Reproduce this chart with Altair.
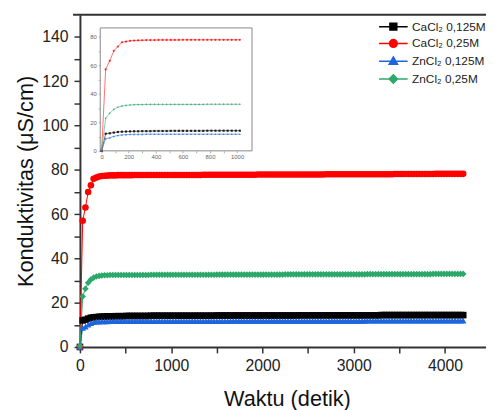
import altair as alt
import pandas as pd

# ---------------- data ----------------
series = ["CaCl₂ 0,125M", "CaCl₂ 0,25M", "ZnCl₂ 0,125M", "ZnCl₂ 0,25M"]
colors = ["#000000", "#ff0000", "#1f66dd", "#2ca86a"]
shapes = ["square", "circle", "triangle-up", "diamond"]

# sampling times (s): one reading every 30 s from 0 to 4200 s
times = list(range(0, 4201, 30))

cacl2_0125 = [
    0, 12.0, 12.3, 12.8, 13.2, 13.4, 13.5, 13.6, 13.7, 13.7,
    13.8, 13.8, 13.8, 13.9, 13.9, 13.9, 13.9, 14.0, 14.0, 14.0,
    14.0, 14.0, 14.0, 14.0, 14.0, 14.0, 14.1, 14.1, 14.1, 14.1,
    14.1, 14.1, 14.1, 14.1, 14.1,
    14.1, 14.1, 14.1, 14.1, 14.1, 14.1, 14.1, 14.1, 14.1, 14.1,
    14.1, 14.1, 14.1, 14.1, 14.1, 14.2, 14.2, 14.2, 14.2, 14.2,
    14.2, 14.2, 14.2, 14.2, 14.2, 14.2, 14.2, 14.2, 14.2, 14.2,
    14.2, 14.2, 14.2, 14.2, 14.2, 14.2, 14.2, 14.2, 14.2, 14.2,
    14.2, 14.2, 14.2, 14.2, 14.2, 14.3, 14.3, 14.3, 14.3, 14.3,
    14.3, 14.3, 14.3, 14.3, 14.3, 14.3, 14.3, 14.3, 14.3, 14.3,
    14.3, 14.3, 14.3, 14.3, 14.3, 14.3, 14.3, 14.3, 14.3, 14.3,
    14.3, 14.3, 14.3, 14.3, 14.3, 14.4, 14.4, 14.4, 14.4, 14.4,
    14.4, 14.4, 14.4, 14.4, 14.4, 14.4, 14.4, 14.4, 14.4, 14.4,
    14.4, 14.4, 14.4, 14.4, 14.4, 14.4, 14.4, 14.4, 14.4, 14.4,
    14.4, 14.4, 14.4, 14.4, 14.4, 14.4,
]

cacl2_025 = [
    0, 57.0, 63.0, 70.0, 73.0, 76.0, 76.5, 77.0, 77.2, 77.3,
    77.4, 77.5, 77.5, 77.5, 77.6, 77.6, 77.6, 77.6, 77.6, 77.6,
    77.7, 77.7, 77.7, 77.7, 77.7, 77.7, 77.7, 77.7, 77.7, 77.7,
    77.7, 77.7, 77.7, 77.7, 77.7,
    77.7, 77.7, 77.7, 77.7, 77.7, 77.7, 77.7, 77.7, 77.7, 77.7,
    77.8, 77.8, 77.8, 77.8, 77.8, 77.8, 77.8, 77.8, 77.8, 77.8,
    77.8, 77.8, 77.8, 77.8, 77.8, 77.8, 77.8, 77.8, 77.8, 77.8,
    77.9, 77.9, 77.9, 77.9, 77.9, 77.9, 77.9, 77.9, 77.9, 77.9,
    77.9, 77.9, 77.9, 77.9, 77.9, 77.9, 77.9, 77.9, 77.9, 77.9,
    77.9, 77.9, 77.9, 77.9, 77.9, 78.0, 78.0, 78.0, 78.0, 78.0,
    78.0, 78.0, 78.0, 78.0, 78.0, 78.0, 78.0, 78.0, 78.0, 78.0,
    78.0, 78.0, 78.0, 78.0, 78.0, 78.0, 78.0, 78.0, 78.0, 78.0,
    78.1, 78.1, 78.1, 78.1, 78.1, 78.1, 78.1, 78.1, 78.1, 78.1,
    78.1, 78.1, 78.1, 78.1, 78.1, 78.2, 78.2, 78.2, 78.2, 78.2,
    78.2, 78.2, 78.2, 78.2, 78.2, 78.2,
]

zncl2_0125 = [
    0, 8.6, 9.2, 10.1, 10.8, 11.2, 11.4, 11.5, 11.6, 11.6,
    11.6, 11.7, 11.7, 11.7, 11.7, 11.7, 11.7, 11.7, 11.7, 11.7,
    11.7, 11.7, 11.7, 11.7, 11.7, 11.7, 11.7, 11.7, 11.7, 11.7,
    11.7, 11.7, 11.7, 11.7, 11.7,
    11.7, 11.7, 11.7, 11.7, 11.7, 11.7, 11.7, 11.7, 11.7, 11.7,
    11.7, 11.7, 11.7, 11.7, 11.7, 11.7, 11.7, 11.7, 11.7, 11.7,
    11.8, 11.8, 11.8, 11.8, 11.8, 11.8, 11.8, 11.8, 11.8, 11.8,
    11.8, 11.8, 11.8, 11.8, 11.8, 11.8, 11.8, 11.8, 11.8, 11.8,
    11.8, 11.8, 11.8, 11.8, 11.8, 11.8, 11.8, 11.8, 11.8, 11.8,
    11.8, 11.8, 11.8, 11.8, 11.8, 11.8, 11.8, 11.8, 11.8, 11.8,
    11.8, 11.8, 11.8, 11.8, 11.8, 11.8, 11.8, 11.8, 11.8, 11.8,
    11.9, 11.9, 11.9, 11.9, 11.9, 11.9, 11.9, 11.9, 11.9, 11.9,
    11.9, 11.9, 11.9, 11.9, 11.9, 11.9, 11.9, 11.9, 11.9, 11.9,
    11.9, 11.9, 11.9, 11.9, 11.9, 11.9, 11.9, 11.9, 11.9, 11.9,
    11.9, 11.9, 11.9, 11.9, 11.9, 11.9,
]

zncl2_025 = [
    0.5, 22.8, 26.3, 29.0, 30.5, 31.3, 31.8, 32.1, 32.3, 32.4,
    32.4, 32.5, 32.5, 32.5, 32.5, 32.5, 32.5, 32.5, 32.5, 32.5,
    32.5, 32.5, 32.5, 32.5, 32.5, 32.5, 32.6, 32.6, 32.6, 32.6,
    32.6, 32.6, 32.6, 32.6, 32.6,
    32.6, 32.6, 32.6, 32.6, 32.6, 32.6, 32.6, 32.6, 32.6, 32.6,
    32.6, 32.6, 32.6, 32.6, 32.6, 32.7, 32.7, 32.7, 32.7, 32.7,
    32.7, 32.7, 32.7, 32.7, 32.7, 32.7, 32.7, 32.7, 32.7, 32.7,
    32.7, 32.7, 32.7, 32.7, 32.7, 32.7, 32.7, 32.7, 32.7, 32.7,
    32.8, 32.8, 32.8, 32.8, 32.8, 32.8, 32.8, 32.8, 32.8, 32.8,
    32.8, 32.8, 32.8, 32.8, 32.8, 32.8, 32.8, 32.8, 32.8, 32.8,
    32.8, 32.8, 32.8, 32.8, 32.8, 32.8, 32.8, 32.8, 32.8, 32.8,
    32.9, 32.9, 32.9, 32.9, 32.9, 32.9, 32.9, 32.9, 32.9, 32.9,
    32.9, 32.9, 32.9, 32.9, 32.9, 32.9, 32.9, 32.9, 32.9, 32.9,
    32.9, 32.9, 32.9, 32.9, 33.0, 33.0, 33.0, 33.0, 33.0, 33.0,
    33.0, 33.0, 33.0, 33.0, 33.0, 33.0,
]

values = [cacl2_0125, cacl2_025, zncl2_0125, zncl2_025]

x_ticks = [0, 500, 1000, 1500, 2000, 2500, 3000, 3500, 4000]
y_ticks = [0, 10, 20, 30, 40, 50, 60, 70, 80, 90, 100, 110, 120, 130, 140]
inset_x_ticks = [0, 100, 200, 300, 400, 500, 600, 700, 800, 900, 1000]
inset_y_ticks = [0, 10, 20, 30, 40, 50, 60, 70, 80]

# legend symbols: line segment + marker (unit = 5 px at symbolSize 100)
legend_paths = [
    "M-2.9,0H2.9M-0.7,-0.7H0.7V0.7H-0.7Z",
    "M-2.9,0H2.9M0.78,0A0.78,0.78,0,1,1,-0.78,0A0.78,0.78,0,1,1,0.78,0Z",
    "M-2.9,0H2.9M0,-0.85L0.85,0.65H-0.85Z",
    "M-2.9,0H2.9M0,-0.85L0.85,0L0,0.85L-0.85,0Z",
]

rows = []
for k, (name, vals) in enumerate(zip(series, values)):
    for t, v in zip(times, vals):
        rows.append({"k": k, "name": name, "t": t, "v": v})
df = pd.DataFrame(rows)

FONT = "Liberation Sans"
W, H = 412, 337

# ---------------- main chart ----------------
xs_main = alt.Scale(domain=[0, 4450], nice=False, zero=False)
ys_main = alt.Scale(domain=[0, 150], nice=False, zero=False)

X = alt.X("t:Q", scale=xs_main, title="Waktu (detik)",
          axis=alt.Axis(values=x_ticks,
                        labelExpr="datum.value % 1000 == 0 ? datum.label : ''",
                        format="d", grid=False, tickSize=6, tickWidth=1.5,
                        domainWidth=2, domainColor="#333", tickColor="#333",
                        labelFontSize=16, labelFont=FONT, labelColor="#222",
                        labelPadding=5, labelFlush=False,
                        titleFontSize=22, titleFont=FONT, titleFontWeight="normal",
                        titleColor="#111", titleX=210, titleY=59,
                        titleBaseline="alphabetic"))
Y = alt.Y("v:Q", scale=ys_main, title="Konduktivitas (μS/cm)",
          axis=alt.Axis(values=y_ticks,
                        labelExpr="datum.value % 20 == 0 ? datum.label : ''",
                        format="d", grid=False, tickSize=6, tickWidth=1.5,
                        domainWidth=2, domainColor="#333", tickColor="#333",
                        labelFontSize=16, labelFont=FONT, labelColor="#222",
                        labelPadding=6, labelFlush=False,
                        titleFontSize=22, titleFont=FONT, titleFontWeight="normal",
                        titleColor="#111", titleX=-48, titleBaseline="alphabetic"))

main_layers = []
for k in range(4):
    base = alt.Chart(df).transform_filter(alt.datum.k == k)
    main_layers.append(base.mark_line(color=colors[k], strokeWidth=1).encode(x=X, y=Y))
for k in range(4):
    base = alt.Chart(df).transform_filter(alt.datum.k == k)
    main_layers.append(base.mark_point(shape=shapes[k], filled=True, size=45,
                                       color=colors[k], opacity=1).encode(x=X, y=Y))

# top frame line
frame_top = alt.Chart(pd.DataFrame({"a": [0]})).mark_rule(
    color="#333", strokeWidth=2).encode(x=alt.value(-7), x2=alt.value(W), y=alt.value(0))

# legend (empty data, explicit domains)
leg = alt.Legend(title=None)
legend_layer = alt.Chart(df).transform_filter("false").mark_point(
    filled=True, size=45).encode(
    x=X, y=Y,
    fill=alt.Fill("name:N", scale=alt.Scale(domain=series, range=colors), legend=leg),
    stroke=alt.Stroke("name:N", scale=alt.Scale(domain=series, range=colors), legend=leg),
    shape=alt.Shape("name:N", scale=alt.Scale(domain=series, range=legend_paths), legend=leg),
)

main = alt.layer(*main_layers, frame_top, legend_layer)

# ---------------- inset ----------------
xs_in = alt.Scale(domain=[-10, 1110], range=[20.6, 174.6], nice=False, zero=False)
ys_in = alt.Scale(domain=[0, 86], range=[138, 13.3], nice=False, zero=False)

XI = alt.X("t:Q", scale=xs_in, title=None,
           axis=alt.Axis(orient="bottom", offset=-199, values=inset_x_ticks,
                         labelExpr="datum.value % 200 == 0 ? datum.label : ''",
                         format="d", grid=False, tickSize=2, tickWidth=0.6,
                         domain=False, tickColor="#777",
                         labelFontSize=6, labelFont=FONT, labelColor="#666",
                         labelPadding=1, labelFlush=False))
YI = alt.Y("v:Q", scale=ys_in, title=None,
           axis=alt.Axis(orient="left", offset=-20.6, values=inset_y_ticks,
                         labelExpr="datum.value % 20 == 0 ? datum.label : ''",
                         format="d", grid=False, tickSize=2, tickWidth=0.6,
                         domain=False, tickColor="#777",
                         labelFontSize=6, labelFont=FONT, labelColor="#666",
                         labelPadding=2, labelFlush=False))

box = pd.DataFrame({"t": [-10], "t2": [1110], "v": [0], "v2": [86]})
inset_box = alt.Chart(box).mark_rect(fill="white", stroke="#888", strokeWidth=1).encode(
    x=XI, x2="t2:Q", y=YI, y2="v2:Q")

inset_layers = [inset_box]
for k in range(4):
    base = alt.Chart(df).transform_filter((alt.datum.k == k) & (alt.datum.t <= 1020))
    inset_layers.append(base.mark_line(color=colors[k], strokeWidth=0.8, opacity=0.7).encode(x=XI, y=YI))
    inset_layers.append(base.mark_point(shape=shapes[k], filled=True, size=5,
                                        color=colors[k], opacity=0.8).encode(x=XI, y=YI))

inset = alt.layer(*inset_layers)

chart = alt.layer(main, inset).resolve_scale(x="independent", y="independent").properties(
    width=W, height=H,
    autosize=alt.AutoSizeParams(type="none"),
    padding={"left": 73, "top": 4, "right": 0, "bottom": 61},
).configure_view(stroke=None).configure_legend(
    orient="none", legendX=312, legendY=6, padding=0,
    symbolSize=100, symbolStrokeWidth=1.5, labelFontSize=12, labelFont=FONT,
    labelColor="#222", labelOffset=13, rowPadding=3, symbolOpacity=1,
)

chart.save("out.html", embed_options={"renderer": "svg", "actions": False})
